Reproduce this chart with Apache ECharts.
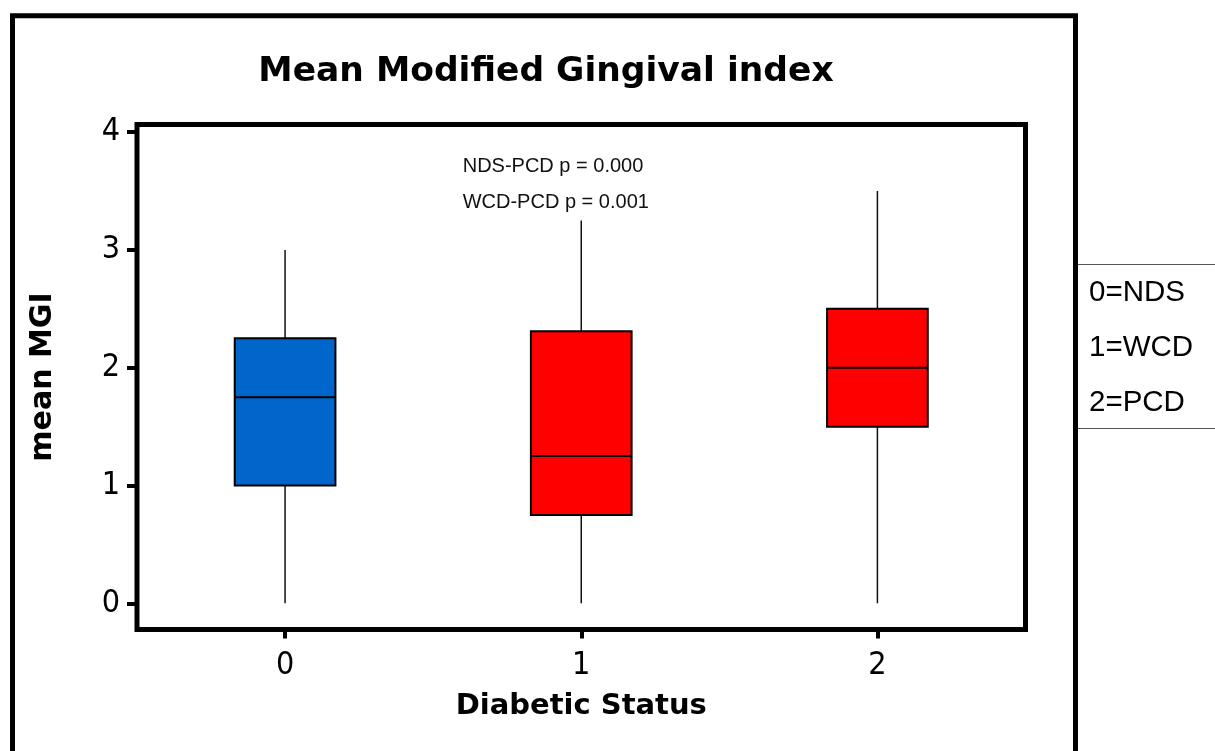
<!DOCTYPE html>
<html>
<head>
<meta charset="utf-8">
<script src="https://cdn.jsdelivr.net/npm/echarts@6/dist/echarts.min.js"></script>
<style>
html, body { margin: 0; padding: 0; background: #fff; }
#chart { width: 1215px; height: 751px; }
</style>
</head>
<body>
<div id="chart"></div>
<script>
// Diabetic status groups and their box-plot summaries of mean MGI
const categories = ['0', '1', '2'];
const lowerWhisker = [0, 0, 0];
const q1 = [1.0, 0.75, 1.5];
const median = [1.75, 1.25, 2.0];
const q3 = [2.25, 2.31, 2.5];
const upperWhisker = [3.0, 3.25, 3.5];
const boxColors = ['#0066CC', '#FF0000', '#FF0000'];
const yTicks = [0, 1, 2, 3, 4];
const pValueNotes = ['NDS-PCD p = 0.000', 'WCD-PCD p = 0.001'];
const groupKey = ['0=NDS', '1=WCD', '2=PCD'];

const rows = categories.map((c, i) => [i, lowerWhisker[i], q1[i], median[i], q3[i], upperWhisker[i]]);

const sans = '"DejaVu Sans", Verdana, sans-serif';
const narrow = '"DejaVu Sans Condensed", "DejaVu Sans", sans-serif';
const arial = '"Liberation Sans", Arial, sans-serif';

function renderBox(params, api) {
  const x = api.value(0);
  const lo = api.coord([x, api.value(1)]);
  const b1 = api.coord([x, api.value(2)]);
  const md = api.coord([x, api.value(3)]);
  const b3 = api.coord([x, api.value(4)]);
  const hi = api.coord([x, api.value(5)]);
  const bw = api.size([1, 0])[0] * 0.34;
  const cx = lo[0];
  return {
    type: 'group',
    children: [
      { type: 'line', shape: { x1: cx, y1: hi[1], x2: cx, y2: lo[1] },
        style: { stroke: '#111', lineWidth: 1.5 } },
      { type: 'rect', shape: { x: cx - bw / 2, y: b3[1], width: bw, height: b1[1] - b3[1] },
        style: { fill: boxColors[params.dataIndex], stroke: '#000', lineWidth: 2 } },
      { type: 'line', shape: { x1: cx - bw / 2, y1: md[1], x2: cx + bw / 2, y2: md[1] },
        style: { stroke: '#000', lineWidth: 2 } }
    ]
  };
}

const chart = echarts.init(document.getElementById('chart'), null, { renderer: 'canvas' });

const graphics = [
  // outer frame, open at the bottom edge of the page
  { type: 'rect', silent: true, z: 10,
    shape: { x: 12.5, y: 15.8, width: 1063, height: 800 },
    style: { fill: 'none', stroke: '#000', lineWidth: 5 } },
  { type: 'text', z: 10, x: 546, y: 72,
    style: { text: 'Mean Modified Gingival index', align: 'center', verticalAlign: 'middle',
             font: 'bold 34.5px ' + sans, fill: '#000' } },
  // key panel on the right
  { type: 'line', z: 10, shape: { x1: 1078, y1: 264.5, x2: 1215, y2: 264.5 },
    style: { stroke: '#555', lineWidth: 1 } },
  { type: 'line', z: 10, shape: { x1: 1078, y1: 428.5, x2: 1215, y2: 428.5 },
    style: { stroke: '#555', lineWidth: 1 } }
];
groupKey.forEach((t, i) => {
  graphics.push({ type: 'text', z: 10, x: 1089, y: 293 + i * 55,
    style: { text: t, align: 'left', verticalAlign: 'middle', font: '29.5px ' + arial, fill: '#000' } });
});
pValueNotes.forEach((t, i) => {
  graphics.push({ type: 'text', z: 10, x: 462.7, y: 166 + i * 36.7,
    style: { text: t, align: 'left', verticalAlign: 'middle', font: '20px ' + arial, fill: '#111' } });
});

chart.setOption({
  animation: false,
  backgroundColor: '#fff',
  grid: {
    left: 137, right: 189.5, top: 124.5, bottom: 121.5,
    show: true, borderColor: '#000', borderWidth: 5, backgroundColor: 'transparent'
  },
  xAxis: {
    type: 'category',
    data: categories,
    name: 'Diabetic Status',
    nameLocation: 'middle',
    nameGap: 62,
    nameTextStyle: { fontFamily: sans, fontWeight: 'bold', fontSize: 29, color: '#000' },
    axisLine: { show: false, onZero: false },
    axisTick: { show: true, alignWithLabel: true, length: 9, lineStyle: { color: '#000', width: 4 } },
    axisLabel: { margin: 20, fontFamily: narrow, fontSize: 32, color: '#000' },
    splitLine: { show: false }
  },
  yAxis: {
    type: 'value',
    min: -0.222,
    max: 4.065,
    name: 'mean MGI',
    nameLocation: 'middle',
    nameGap: 79,
    nameTextStyle: { fontFamily: sans, fontWeight: 'bold', fontSize: 30, color: '#000' },
    axisLine: { show: false, onZero: false },
    axisTick: { show: true, customValues: yTicks, length: 10, lineStyle: { color: '#000', width: 4 } },
    axisLabel: { customValues: yTicks, margin: 17, fontFamily: narrow, fontSize: 32, color: '#000' },
    splitLine: { show: false }
  },
  graphic: graphics,
  series: [{
    type: 'custom',
    renderItem: renderBox,
    encode: { x: 0, y: [1, 2, 3, 4, 5] },
    data: rows
  }]
});
</script>
</body>
</html>
